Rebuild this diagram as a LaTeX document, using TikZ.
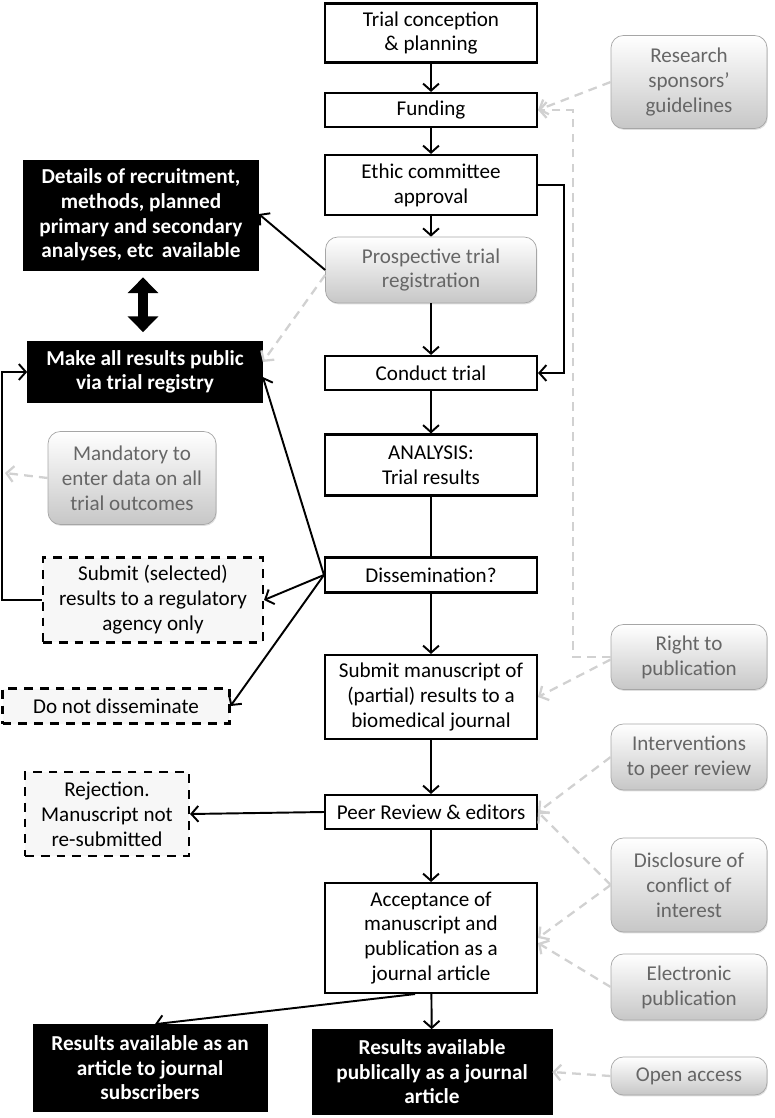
\documentclass[tikz,border=0pt]{standalone}
\usepackage{fontspec}
\setmainfont{Carlito}
\usetikzlibrary{arrows.meta,shadows}

\tikzset{
  flowbox/.style={draw=black, line width=1.2pt, fill=white, align=center, inner sep=2pt, minimum width=4.24cm},
  blackbox/.style={draw=black, fill=black, text=white, font=\fontsize{12.1}{14}\selectfont\bfseries, align=center, inner sep=2pt},
  greybox/.style={draw=black!35, rounded corners=7pt, top color=white, bottom color=black!22, text=black!60, align=center, inner sep=2pt, drop shadow={shadow xshift=0.5pt, shadow yshift=-0.8pt, opacity=0.25}},
  dashbox/.style={draw=black, line width=1.2pt, dash pattern=on 5pt off 4pt, fill=black!3, align=center, inner sep=2pt},
  flowarrow/.style={line width=1.1pt, -{Straight Barb[length=4pt, width=9pt]}},
  greyarrow/.style={draw=black!18, line width=1.3pt, dash pattern=on 5pt off 3.5pt, -{Straight Barb[length=4pt, width=9pt]}},
}

\begin{document}
\begin{tikzpicture}[x=0.02cm, y=-0.02cm, font=\fontsize{12}{14.2}\selectfont]
  \useasboundingbox (0,0) rectangle (774,1118);

  % main column
  \node [flowbox, minimum height=1.18cm] (trial) at (431,33) {Trial conception\\ \& planning};
  \node [flowbox, minimum height=0.68cm] (fund) at (431,110) {Funding};
  \node [flowbox, minimum height=1.2cm] (ethic) at (431,185) {Ethic committee\\ approval};
  \node [greybox, minimum width=4.22cm, minimum height=1.32cm] (prosp) at (431,270) {Prospective trial\\ registration};
  \node [flowbox, minimum height=0.68cm] (conduct) at (431,373) {Conduct trial};
  \node [flowbox, minimum height=1.22cm] (analysis) at (431,465) {ANALYSIS:\\ Trial results};
  \node [flowbox, minimum height=0.7cm] (dissem) at (431,575) {Dissemination?};
  \node [flowbox, minimum height=1.68cm] (submit) at (431,697) {Submit manuscript of\\ (partial) results to a\\ biomedical journal};
  \node [flowbox, minimum height=0.68cm] (peer) at (431,812) {Peer Review \& editors};
  \node [flowbox, minimum height=2.2cm] (accept) at (431,938) {Acceptance of\\ manuscript and\\ publication as a\\ journal article};
  \node [blackbox, minimum width=4.8cm, minimum height=1.7cm] (pubres) at (432,1072) {Results available\\ publically as a journal\\ article};

  % left side
  \node [blackbox, minimum width=4.7cm, minimum height=2.2cm] (details) at (141,215) {Details of recruitment,\\ methods, planned\\ primary and secondary\\ analyses, etc\, available};
  \node [blackbox, minimum width=4.7cm, minimum height=1.22cm] (public) at (145,372) {Make all results public\\ via trial registry};
  \node [greybox, minimum width=3.36cm, minimum height=1.86cm] (mand) at (132,478) {Mandatory to\\ enter data on all\\ trial outcomes};
  \node [dashbox, minimum width=4.4cm, minimum height=1.7cm] (select) at (153,600) {Submit (selected)\\ results to a regulatory\\ agency only};
  \node [dashbox, minimum width=4.54cm, minimum height=0.7cm] (notdiss) at (116,706) {Do not disseminate};
  \node [dashbox, minimum width=3.28cm, minimum height=1.68cm] (reject) at (107,814) {Rejection.\\ Manuscript not\\ re-submitted};
  \node [blackbox, minimum width=4.68cm, minimum height=1.74cm] (subres) at (150,1068) {Results available as an\\ article to journal\\ subscribers};
  \coordinate (mandend) at (5,473);

  % right side
  \node [greybox, minimum width=3.12cm, minimum height=1.86cm] (sponsor) at (689,82) {Research\\ sponsors'\\ guidelines};
  \node [greybox, minimum width=3.12cm, minimum height=1.3cm] (right) at (689,657) {Right to\\ publication};
  \node [greybox, minimum width=3.12cm, minimum height=1.32cm] (interv) at (689,757) {Interventions\\ to peer review};
  \node [greybox, minimum width=3.12cm, minimum height=1.88cm] (disclos) at (689,885) {Disclosure of\\ conflict of\\ interest};
  \node [greybox, minimum width=3.12cm, minimum height=1.32cm] (electr) at (689,987) {Electronic\\ publication};
  \node [greybox, minimum width=3.12cm, minimum height=0.76cm] (openacc) at (689,1076) {Open access};

  % main flow
  \draw [flowarrow] (trial) -- (fund);
  \draw [flowarrow] (fund) -- (ethic);
  \draw [flowarrow] (ethic) -- (prosp);
  \draw [flowarrow] (prosp) -- (conduct);
  \draw [flowarrow] (ethic.east) -- ++(0.52cm,0) |- (conduct.east);
  \draw [flowarrow] (conduct) -- (analysis);
  \draw [line width=1.1pt] (analysis) -- (dissem);
  \draw [flowarrow] (dissem) -- (submit);
  \draw [flowarrow] (submit) -- (peer);
  \draw [flowarrow] (peer) -- (accept);
  \draw [flowarrow] (accept) -- (pubres);
  \draw [flowarrow] ([xshift=-0.32cm]accept.south) -- ([xshift=0.1cm]subres.north);

  % branches to the left
  \draw [flowarrow] (prosp.west) -- ([yshift=0.02cm]details.east);
  \draw [flowarrow] (dissem.west) -- ([yshift=-0.1cm]public.east);
  \draw [flowarrow] (dissem.west) -- (select.east);
  \draw [flowarrow] (dissem.west) -- (notdiss.east);
  \draw [flowarrow] (select.west) -- ++(-0.8cm,0) |- (public.west);
  \draw [flowarrow] (peer.west) -- (reject.east);
  \draw [line width=6pt, {Triangle[length=9pt, width=17pt]}-{Triangle[length=9pt, width=17pt]}] ([xshift=0.04cm, yshift=-0.14cm]details.south) -- ([xshift=0.04cm, yshift=0.18cm]details.south |- public.north);

  % influences
  \draw [greyarrow] ([yshift=-0.1cm]prosp.west) -- ([yshift=0.2cm]public.east);
  \draw [greyarrow] (mand.west) -- (mandend);
  \draw [greyarrow] (sponsor.west) -- (fund.east);
  \draw [greyarrow] (right.west) -- ++(-0.76cm,0) |- (fund.east);
  \draw [greyarrow] ([yshift=-0.05cm]right.west) -- (submit.east);
  \draw [greyarrow] (interv.west) -- (peer.east);
  \draw [greyarrow] (disclos.west) -- (peer.east);
  \draw [greyarrow] (disclos.west) -- (accept.east);
  \draw [greyarrow] (electr.west) -- ([yshift=-0.1cm]accept.east);
  \draw [greyarrow] (openacc.west) -- (pubres.east);
\end{tikzpicture}
\end{document}
